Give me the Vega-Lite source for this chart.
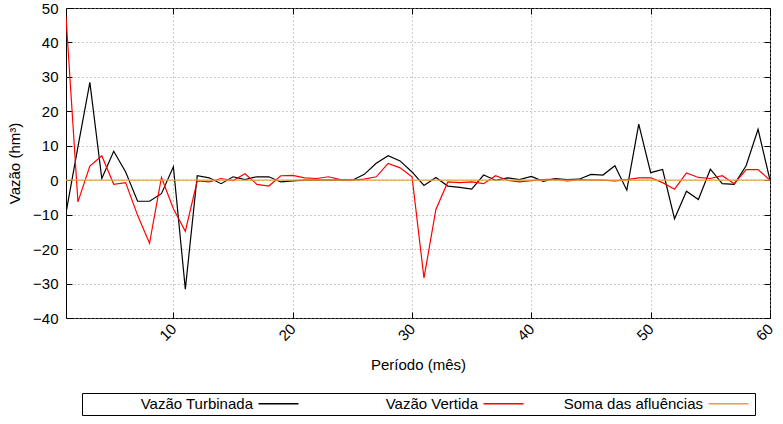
{
  "$schema": "https://vega.github.io/schema/vega-lite/v6.json",
  "width": 704,
  "height": 310,
  "autosize": "none",
  "padding": {"left": 66, "top": 8, "right": 13, "bottom": 106},
  "background": "white",
  "config": {
    "font": "Liberation Sans",
    "view": {"stroke": "black", "strokeWidth": 1},
    "axis": {"labelFont": "Liberation Sans", "titleFont": "Liberation Sans", "labelFontSize": 15, "titleFontSize": 15, "titleFontWeight": "normal", "labelColor": "black", "titleColor": "black"}
  },
  "datasets": {
    "series": [
      {"mes": 1, "serie": "Vazão Turbinada", "valor": -9.5},
      {"mes": 2, "serie": "Vazão Turbinada", "valor": 9.7},
      {"mes": 3, "serie": "Vazão Turbinada", "valor": 28.4},
      {"mes": 4, "serie": "Vazão Turbinada", "valor": 0.5},
      {"mes": 5, "serie": "Vazão Turbinada", "valor": 8.4},
      {"mes": 6, "serie": "Vazão Turbinada", "valor": 2.4},
      {"mes": 7, "serie": "Vazão Turbinada", "valor": -6.1},
      {"mes": 8, "serie": "Vazão Turbinada", "valor": -6.1},
      {"mes": 9, "serie": "Vazão Turbinada", "valor": -3.9},
      {"mes": 10, "serie": "Vazão Turbinada", "valor": 3.9},
      {"mes": 11, "serie": "Vazão Turbinada", "valor": -31.6},
      {"mes": 12, "serie": "Vazão Turbinada", "valor": 1.3},
      {"mes": 13, "serie": "Vazão Turbinada", "valor": 0.7},
      {"mes": 14, "serie": "Vazão Turbinada", "valor": -1.0},
      {"mes": 15, "serie": "Vazão Turbinada", "valor": 1.0},
      {"mes": 16, "serie": "Vazão Turbinada", "valor": 0.2},
      {"mes": 17, "serie": "Vazão Turbinada", "valor": 1.0},
      {"mes": 18, "serie": "Vazão Turbinada", "valor": 1.0},
      {"mes": 19, "serie": "Vazão Turbinada", "valor": -0.5},
      {"mes": 20, "serie": "Vazão Turbinada", "valor": -0.2},
      {"mes": 21, "serie": "Vazão Turbinada", "valor": 0},
      {"mes": 22, "serie": "Vazão Turbinada", "valor": 0},
      {"mes": 23, "serie": "Vazão Turbinada", "valor": 0},
      {"mes": 24, "serie": "Vazão Turbinada", "valor": 0},
      {"mes": 25, "serie": "Vazão Turbinada", "valor": 0},
      {"mes": 26, "serie": "Vazão Turbinada", "valor": 1.7},
      {"mes": 27, "serie": "Vazão Turbinada", "valor": 4.9},
      {"mes": 28, "serie": "Vazão Turbinada", "valor": 7.1},
      {"mes": 29, "serie": "Vazão Turbinada", "valor": 5.6},
      {"mes": 30, "serie": "Vazão Turbinada", "valor": 2.4},
      {"mes": 31, "serie": "Vazão Turbinada", "valor": -1.5},
      {"mes": 32, "serie": "Vazão Turbinada", "valor": 0.8},
      {"mes": 33, "serie": "Vazão Turbinada", "valor": -1.7},
      {"mes": 34, "serie": "Vazão Turbinada", "valor": -2.1},
      {"mes": 35, "serie": "Vazão Turbinada", "valor": -2.6},
      {"mes": 36, "serie": "Vazão Turbinada", "valor": 1.5},
      {"mes": 37, "serie": "Vazão Turbinada", "valor": 0},
      {"mes": 38, "serie": "Vazão Turbinada", "valor": 0.7},
      {"mes": 39, "serie": "Vazão Turbinada", "valor": 0.2},
      {"mes": 40, "serie": "Vazão Turbinada", "valor": 1.1},
      {"mes": 41, "serie": "Vazão Turbinada", "valor": -0.3},
      {"mes": 42, "serie": "Vazão Turbinada", "valor": 0.5},
      {"mes": 43, "serie": "Vazão Turbinada", "valor": 0.2},
      {"mes": 44, "serie": "Vazão Turbinada", "valor": 0.3},
      {"mes": 45, "serie": "Vazão Turbinada", "valor": 1.7},
      {"mes": 46, "serie": "Vazão Turbinada", "valor": 1.5},
      {"mes": 47, "serie": "Vazão Turbinada", "valor": 4.2},
      {"mes": 48, "serie": "Vazão Turbinada", "valor": -2.9},
      {"mes": 49, "serie": "Vazão Turbinada", "valor": 16.3},
      {"mes": 50, "serie": "Vazão Turbinada", "valor": 2.2},
      {"mes": 51, "serie": "Vazão Turbinada", "valor": 3.1},
      {"mes": 52, "serie": "Vazão Turbinada", "valor": -11.2},
      {"mes": 53, "serie": "Vazão Turbinada", "valor": -3.2},
      {"mes": 54, "serie": "Vazão Turbinada", "valor": -5.6},
      {"mes": 55, "serie": "Vazão Turbinada", "valor": 3.2},
      {"mes": 56, "serie": "Vazão Turbinada", "valor": -1.0},
      {"mes": 57, "serie": "Vazão Turbinada", "valor": -1.2},
      {"mes": 58, "serie": "Vazão Turbinada", "valor": 4.2},
      {"mes": 59, "serie": "Vazão Turbinada", "valor": 14.8},
      {"mes": 60, "serie": "Vazão Turbinada", "valor": 0},
      {"mes": 1, "serie": "Vazão Vertida", "valor": 47.5},
      {"mes": 2, "serie": "Vazão Vertida", "valor": -6.3},
      {"mes": 3, "serie": "Vazão Vertida", "valor": 4.1},
      {"mes": 4, "serie": "Vazão Vertida", "valor": 7.1},
      {"mes": 5, "serie": "Vazão Vertida", "valor": -1.2},
      {"mes": 6, "serie": "Vazão Vertida", "valor": -0.7},
      {"mes": 7, "serie": "Vazão Vertida", "valor": -10.2},
      {"mes": 8, "serie": "Vazão Vertida", "valor": -18.3},
      {"mes": 9, "serie": "Vazão Vertida", "valor": 0.8},
      {"mes": 10, "serie": "Vazão Vertida", "valor": -8.3},
      {"mes": 11, "serie": "Vazão Vertida", "valor": -14.8},
      {"mes": 12, "serie": "Vazão Vertida", "valor": -0.2},
      {"mes": 13, "serie": "Vazão Vertida", "valor": -0.5},
      {"mes": 14, "serie": "Vazão Vertida", "valor": 0.5},
      {"mes": 15, "serie": "Vazão Vertida", "valor": -0.1},
      {"mes": 16, "serie": "Vazão Vertida", "valor": 1.9},
      {"mes": 17, "serie": "Vazão Vertida", "valor": -1.2},
      {"mes": 18, "serie": "Vazão Vertida", "valor": -1.7},
      {"mes": 19, "serie": "Vazão Vertida", "valor": 1.3},
      {"mes": 20, "serie": "Vazão Vertida", "valor": 1.4},
      {"mes": 21, "serie": "Vazão Vertida", "valor": 0.7},
      {"mes": 22, "serie": "Vazão Vertida", "valor": 0.5},
      {"mes": 23, "serie": "Vazão Vertida", "valor": 1.0},
      {"mes": 24, "serie": "Vazão Vertida", "valor": 0.2},
      {"mes": 25, "serie": "Vazão Vertida", "valor": 0},
      {"mes": 26, "serie": "Vazão Vertida", "valor": 0.3},
      {"mes": 27, "serie": "Vazão Vertida", "valor": 1.0},
      {"mes": 28, "serie": "Vazão Vertida", "valor": 4.9},
      {"mes": 29, "serie": "Vazão Vertida", "valor": 3.6},
      {"mes": 30, "serie": "Vazão Vertida", "valor": 1.0},
      {"mes": 31, "serie": "Vazão Vertida", "valor": -28.4},
      {"mes": 32, "serie": "Vazão Vertida", "valor": -8.5},
      {"mes": 33, "serie": "Vazão Vertida", "valor": -0.5},
      {"mes": 34, "serie": "Vazão Vertida", "valor": -0.7},
      {"mes": 35, "serie": "Vazão Vertida", "valor": -0.5},
      {"mes": 36, "serie": "Vazão Vertida", "valor": -1.0},
      {"mes": 37, "serie": "Vazão Vertida", "valor": 1.3},
      {"mes": 38, "serie": "Vazão Vertida", "valor": 0},
      {"mes": 39, "serie": "Vazão Vertida", "valor": -0.5},
      {"mes": 40, "serie": "Vazão Vertida", "valor": -0.1},
      {"mes": 41, "serie": "Vazão Vertida", "valor": 0.2},
      {"mes": 42, "serie": "Vazão Vertida", "valor": 0.3},
      {"mes": 43, "serie": "Vazão Vertida", "valor": -0.2},
      {"mes": 44, "serie": "Vazão Vertida", "valor": 0.2},
      {"mes": 45, "serie": "Vazão Vertida", "valor": 0},
      {"mes": 46, "serie": "Vazão Vertida", "valor": 0},
      {"mes": 47, "serie": "Vazão Vertida", "valor": -0.2},
      {"mes": 48, "serie": "Vazão Vertida", "valor": 0.2},
      {"mes": 49, "serie": "Vazão Vertida", "valor": 0.7},
      {"mes": 50, "serie": "Vazão Vertida", "valor": 0.7},
      {"mes": 51, "serie": "Vazão Vertida", "valor": -0.7},
      {"mes": 52, "serie": "Vazão Vertida", "valor": -2.6},
      {"mes": 53, "serie": "Vazão Vertida", "valor": 2.1},
      {"mes": 54, "serie": "Vazão Vertida", "valor": 0.8},
      {"mes": 55, "serie": "Vazão Vertida", "valor": 0.5},
      {"mes": 56, "serie": "Vazão Vertida", "valor": 1.3},
      {"mes": 57, "serie": "Vazão Vertida", "valor": -1.0},
      {"mes": 58, "serie": "Vazão Vertida", "valor": 3.1},
      {"mes": 59, "serie": "Vazão Vertida", "valor": 3.1},
      {"mes": 60, "serie": "Vazão Vertida", "valor": 0},
      {"mes": 1, "serie": "Soma das afluências", "valor": 0},
      {"mes": 60, "serie": "Soma das afluências", "valor": 0}
    ],
    "ticks": [
      {"mes": 10, "valor": -40}, {"mes": 20, "valor": -30}, {"mes": 30, "valor": -20},
      {"mes": 40, "valor": -10}, {"mes": 50, "valor": 0}, {"mes": 60, "valor": 10}
    ]
  },
  "resolve": {"axis": {"x": "independent", "y": "independent"}},
  "layer": [
    {
      "data": {"name": "series"},
      "mark": {"type": "line", "strokeWidth": 1.2, "clip": true},
      "encoding": {
        "x": {
          "field": "mes", "type": "quantitative",
          "scale": {"domain": [1, 60], "nice": false, "zero": false},
          "axis": {
            "title": "Período (mês)", "values": [10, 20, 30, 40, 50, 60],
            "labelAngle": -45, "labelAlign": "right", "labelBaseline": "middle",
            "labelPadding": 14, "tickSize": -6, "tickColor": "black", "domain": false,
            "grid": true, "gridColor": "#999999", "gridDash": [1, 3], "gridWidth": 1,
            "titlePadding": 14
          }
        },
        "y": {
          "field": "valor", "type": "quantitative",
          "scale": {"domain": [-40, 50], "nice": false},
          "axis": {
            "title": "Vazão (hm³)", "values": [-40, -30, -20, -10, 0, 10, 20, 30, 40, 50],
            "tickSize": -6, "tickColor": "black", "domain": false, "labelPadding": 14,
            "grid": true, "gridColor": "#999999", "gridDash": [1, 3], "gridWidth": 1,
            "titlePadding": 10
          }
        },
        "color": {
          "field": "serie", "type": "nominal",
          "scale": {"domain": ["Vazão Turbinada", "Vazão Vertida", "Soma das afluências"], "range": ["#000000", "#ff0000", "#e6a532"]},
          "legend": {
            "orient": "none", "legendX": 16, "legendY": 385, "direction": "horizontal",
            "columns": 3, "title": " ", "titleOrient": "left", "titlePadding": 186,
            "titleFontSize": 15,
            "symbolType": "M-4,0H4", "symbolSize": 100,
            "symbolStrokeWidth": 1.5, "labelFontSize": 15, "labelFont": "Liberation Sans",
            "labelColor": "black", "strokeColor": "black", "padding": 3,
            "labelAlign": "right", "labelOffset": -33,
            "columnPadding": 36, "gridAlign": "all"
          }
        },
        "order": {"field": "mes", "type": "quantitative"}
      }
    },
    {
      "data": {"name": "ticks"},
      "mark": {"type": "point", "opacity": 0},
      "encoding": {
        "x": {
          "field": "mes", "type": "quantitative",
          "scale": {"domain": [1, 60], "nice": false, "zero": false},
          "axis": {"orient": "top", "title": null, "labels": false, "values": [10, 20, 30, 40, 50, 60], "tickSize": -6, "tickColor": "black", "domain": false, "grid": false}
        },
        "y": {
          "field": "valor", "type": "quantitative",
          "scale": {"domain": [-40, 50], "nice": false},
          "axis": {"orient": "right", "title": null, "labels": false, "values": [-40, -30, -20, -10, 0, 10, 20, 30, 40, 50], "tickSize": -6, "tickColor": "black", "domain": false, "grid": false}
        }
      }
    }
  ]
}
